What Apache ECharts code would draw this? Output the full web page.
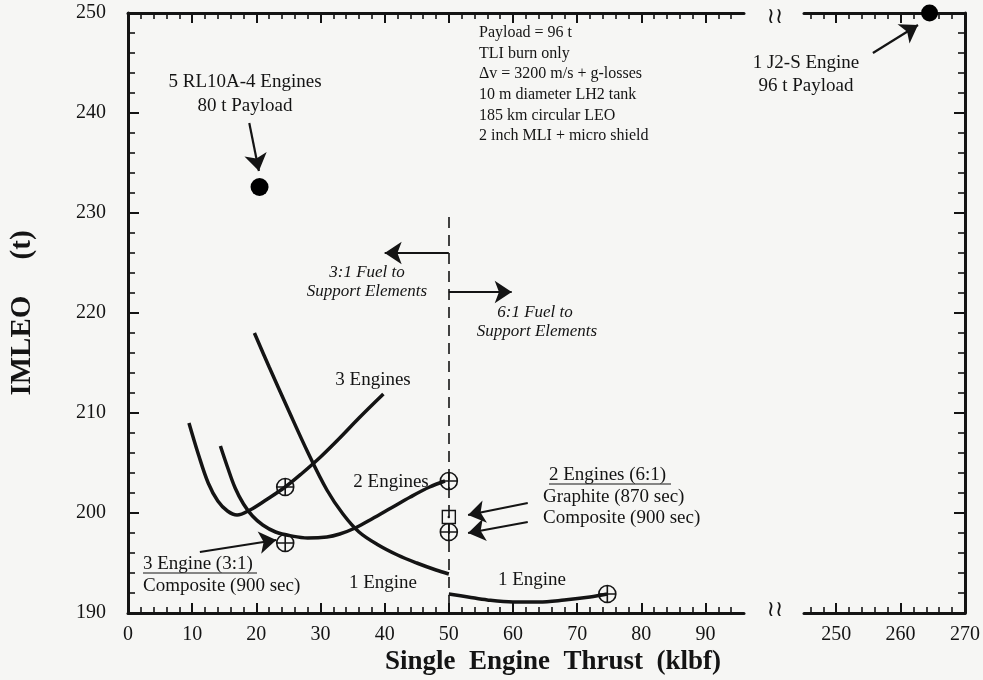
<!DOCTYPE html>
<html>
<head>
<meta charset="utf-8" />
<script src="https://cdn.jsdelivr.net/npm/echarts@6/dist/echarts.min.js"></script>
<style>
  html, body { margin: 0; padding: 0; background: #f6f6f4; }
  #chart { width: 983px; height: 680px; }
</style>
</head>
<body>
<div id="chart"></div>
<script>
// IMLEO vs single engine thrust
const threeEngines = [[9.5, 209], [11, 205.8], [12.5, 203], [14, 201.2], [15.5, 200.2], [17, 199.8],
  [19, 200.3], [21.5, 201.3], [24.5, 202.6], [27, 203.9], [30, 205.6], [33, 207.5], [36, 209.5], [39.8, 211.9]];
const twoEngines = [[14.4, 206.7], [15.5, 204.6], [16.7, 202.5], [18, 200.9], [19.4, 199.7], [21, 198.8],
  [23, 198.1], [25.5, 197.7], [28, 197.5], [31, 197.6], [33, 197.9], [35.4, 198.5], [38, 199.4],
  [41, 200.5], [44, 201.6], [47, 202.6], [49.4, 203.2]];
const oneEngineLow = [[19.7, 218], [22, 214.6], [25, 210.3], [28, 206.1], [31, 202.3], [33.5, 199.9],
  [36, 198.1], [39, 196.8], [42, 195.8], [45, 195], [48, 194.3], [50, 193.9]];
const oneEngineHigh = [[50, 191.9], [53, 191.6], [56, 191.3], [60, 191.1], [64, 191.1], [68, 191.3],
  [72, 191.6], [74.7, 191.9]];

const crossPoints = [[24.5, 202.6], [24.5, 197], [50, 203.2], [50, 198.1], [74.7, 191.9]];
const graphitePoint = [[50, 199.6]];
const rl10Point = [[20.5, 232.6]];
const j2sPoint = [[264.5, 250]];

// annotation arrows [from, to]
const leftArrows = [
  [[50, 226], [40, 226]],
  [[50, 222.1], [59.8, 222.1]],
  [[18.9, 239], [20.4, 234.2]],
  [[11.2, 196.1], [23.1, 197.3]],
  [[62.3, 201], [53, 199.8]],
  [[62.3, 199.1], [53, 198]]
];
const rightArrows = [[[255.7, 246], [262.7, 248.8]]];
const fuelSplit = [[50, 229.6], [50, 190]];

const xMajorLeft = [0, 10, 20, 30, 40, 50, 60, 70, 80, 90];
const xMinorLeft = [];
for (let v = 2; v <= 94; v += 2) if (v % 10) xMinorLeft.push(v);
const xMajorRight = [250, 260, 270];
const xMinorRight = [];
for (let v = 246; v < 270; v += 2) if (v % 10) xMinorRight.push(v);

const ink = '#141414';
const serif = 'Liberation Serif';

const chart = echarts.init(document.getElementById('chart'));

function xAxes(gridIndex, min, max, major, minor, labels) {
  const list = [];
  ['bottom', 'top'].forEach(pos => {
    list.push({
      type: 'value', gridIndex, position: pos, min, max,
      splitLine: { show: false },
      axisLine: { onZero: false, lineStyle: { color: ink, width: 3 } },
      axisTick: { inside: true, length: 10, customValues: major, lineStyle: { color: ink, width: 2 } },
      axisLabel: {
        show: labels && pos === 'bottom', customValues: major, margin: 12,
        color: ink, fontFamily: serif, fontSize: 20
      }
    });
    list.push({
      type: 'value', gridIndex, position: pos, min, max,
      splitLine: { show: false },
      axisLine: { show: false, onZero: false },
      axisTick: { inside: true, length: 6, customValues: minor, lineStyle: { color: ink, width: 1.6 } },
      axisLabel: { show: false }
    });
  });
  return list;
}

function yAxis(gridIndex, pos, labels) {
  return {
    type: 'value', gridIndex, position: pos, min: 190, max: 250, interval: 10,
    splitLine: { show: false },
    axisLine: { onZero: false, lineStyle: { color: ink, width: 3 } },
    axisTick: { inside: true, length: 11, lineStyle: { color: ink, width: 2 } },
    minorTick: { show: true, splitNumber: 5, length: 7, lineStyle: { color: ink, width: 1.6 } },
    axisLabel: { show: labels, margin: 22, color: ink, fontFamily: serif, fontSize: 20 },
    name: labels ? 'IMLEO     (t)' : '',
    nameLocation: 'middle',
    nameGap: 91,
    nameTextStyle: { color: ink, fontFamily: serif, fontSize: 29, fontWeight: 'bold' }
  };
}

function curve(data) {
  return {
    type: 'line', xAxisIndex: 0, yAxisIndex: 0, data, smooth: 0.35,
    showSymbol: false, silent: true,
    lineStyle: { color: ink, width: 3.5 }
  };
}

function arrows(list) {
  return list.map(([a, b]) => [{ coord: a }, { coord: b }]);
}

function arrowSeries(xi, yi, list) {
  return {
    type: 'line', xAxisIndex: xi, yAxisIndex: yi, data: [], silent: true,
    markLine: {
      silent: true, symbol: ['none', 'arrow'], symbolSize: 17, label: { show: false },
      itemStyle: { color: ink },
      lineStyle: { color: ink, width: 2.2, type: 'solid' },
      emphasis: { disabled: true },
      data: arrows(list)
    }
  };
}

const crossSymbol = 'path://M0,-10 A10,10 0 1 1 0,10 A10,10 0 1 1 0,-10 Z M0,-10 L0,10 M-10,0 L10,0';

function text(x, y, str, opts) {
  return {
    type: 'text', x, y, silent: true,
    style: Object.assign({
      text: str, fill: ink, font: '19px "' + serif + '"',
      align: 'center', verticalAlign: 'middle'
    }, opts || {})
  };
}

const noteLines = ['Payload = 96 t', 'TLI burn only', '\u0394v = 3200 m/s + g-losses',
  '10 m diameter LH2 tank', '185 km circular LEO', '2 inch MLI + micro shield'];

const italic = 'italic 17px "' + serif + '"';
const graphics = [
  text(245, 82, '5 RL10A-4 Engines'),
  text(245, 106, '80 t Payload'),
  text(367, 273, '3:1 Fuel to', { font: italic }),
  text(367, 292, 'Support Elements', { font: italic }),
  text(535, 313, '6:1 Fuel to', { font: italic }),
  text(537, 332, 'Support Elements', { font: italic }),
  text(373, 380, '3 Engines'),
  text(391, 482, '2 Engines'),
  text(383, 583, '1 Engine'),
  text(532, 580, '1 Engine'),
  text(143, 564, '3 Engine (3:1)', { align: 'left' }),
  text(143, 586, 'Composite (900 sec)', { align: 'left' }),
  text(549, 475, '2 Engines (6:1)', { align: 'left' }),
  text(543, 497, 'Graphite (870 sec)', { align: 'left' }),
  text(543, 518, 'Composite (900 sec)', { align: 'left' }),
  text(806, 63, '1 J2-S Engine'),
  text(806, 86, '96 t Payload'),
  text(553, 662, 'Single  Engine  Thrust  (klbf)', { font: 'bold 27px "' + serif + '"' }),
  text(775, 17, '\u2240\u2240', { font: '22px "DejaVu Sans"' }),
  text(775, 610, '\u2240\u2240', { font: '22px "DejaVu Sans"' }),
  { type: 'line', silent: true, shape: { x1: 143, y1: 573, x2: 257, y2: 573 }, style: { stroke: ink, lineWidth: 1.2 } },
  { type: 'line', silent: true, shape: { x1: 549, y1: 484, x2: 671, y2: 484 }, style: { stroke: ink, lineWidth: 1.2 } }
];
noteLines.forEach((s, i) => {
  graphics.push(text(479, 33 + i * 20.6, s, { align: 'left', font: '16px "' + serif + '"' }));
});

const option = {
  backgroundColor: '#f6f6f4',
  animation: false,
  grid: [
    { left: 125, top: 13, width: 619, height: 600 },
    { left: 804, top: 13, width: 161, height: 600 }
  ],
  xAxis: [
    ...xAxes(0, 0, 96, xMajorLeft, xMinorLeft, true),
    ...xAxes(1, 245, 270, xMajorRight, xMinorRight, true)
  ],
  yAxis: [yAxis(0, 'left', true), yAxis(1, 'right', false)],
  series: [
    curve(threeEngines),
    curve(twoEngines),
    curve(oneEngineLow),
    curve(oneEngineHigh),
    {
      type: 'line', xAxisIndex: 0, yAxisIndex: 0, data: [], silent: true,
      markLine: {
        silent: true, symbol: ['none', 'none'], label: { show: false },
        lineStyle: { color: ink, width: 1.6, type: [11, 7] },
        data: [[{ coord: fuelSplit[0] }, { coord: fuelSplit[1] }]]
      }
    },
    arrowSeries(0, 0, leftArrows),
    arrowSeries(4, 1, rightArrows),
    {
      type: 'scatter', xAxisIndex: 0, yAxisIndex: 0, data: crossPoints, silent: true,
      symbol: crossSymbol, symbolSize: 17,
      itemStyle: { color: '#f6f6f4', borderColor: ink, borderWidth: 1.6, opacity: 1 }
    },
    {
      type: 'scatter', xAxisIndex: 0, yAxisIndex: 0, data: graphitePoint, silent: true,
      symbol: 'rect', symbolSize: 13,
      itemStyle: { color: '#f6f6f4', borderColor: ink, borderWidth: 1.4, opacity: 1 }
    },
    {
      type: 'scatter', xAxisIndex: 0, yAxisIndex: 0, data: graphitePoint, silent: true,
      symbol: 'circle', symbolSize: 2.5, itemStyle: { color: ink, opacity: 1 }
    },
    {
      type: 'scatter', xAxisIndex: 0, yAxisIndex: 0, data: rl10Point, silent: true,
      symbol: 'circle', symbolSize: 18, itemStyle: { color: '#000', opacity: 1 }
    },
    {
      type: 'scatter', xAxisIndex: 4, yAxisIndex: 1, data: j2sPoint, silent: true, clip: false,
      symbol: 'circle', symbolSize: 17, itemStyle: { color: '#000', opacity: 1 }
    }
  ],
  graphic: graphics
};

chart.setOption(option);
</script>
</body>
</html>
